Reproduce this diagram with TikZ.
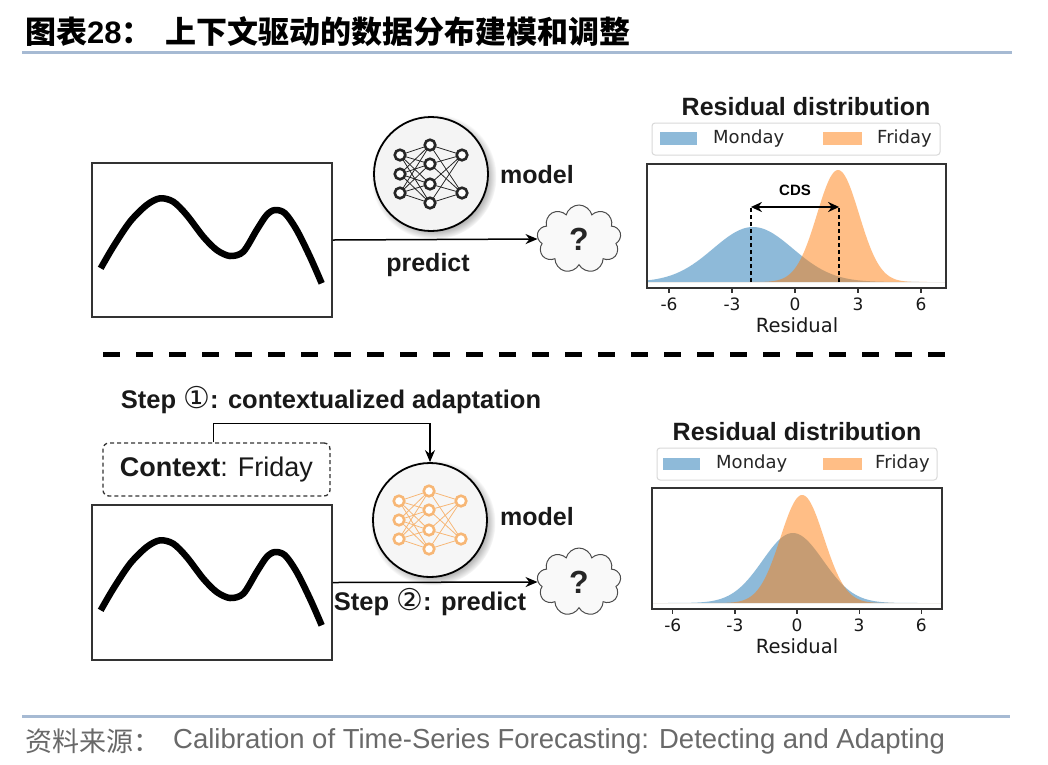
\documentclass[tikz,border=0pt]{standalone}
\usepackage{fontspec}
\setmainfont{Liberation Sans}
\newfontfamily\dvs{DejaVu Sans}
\newfontfamily\cjk{Noto Sans CJK SC}
\usetikzlibrary{arrows.meta,shapes.symbols,shadows,calc}
\definecolor{cblue}{HTML}{1F77B4}
\definecolor{corange}{HTML}{FF7F0E}
\definecolor{rulecol}{RGB}{166,186,211}
\definecolor{foot}{RGB}{105,105,105}
\definecolor{netor}{RGB}{247,183,118}
\definecolor{txt}{RGB}{25,25,25}
\newcommand\myfs[1]{\fontsize{#1pt}{#1pt}\selectfont}
\newcommand\drawnet[2]{%
  \begin{scope}[shift={(#1.center)}]
    \foreach \a in {-19,0,19}{\foreach \b in {-29,-10,10,29}{\draw[#2, line width=0.8pt] (-31,\a) -- (-1,\b);}}
    \foreach \b in {-29,-10,10,29}{\foreach \c in {-19,19}{\draw[#2, line width=0.8pt] (-1,\b) -- (31,\c);}}
    \foreach \p in {(-31,-19),(-31,0),(-31,19),(-1,-29),(-1,-10),(-1,10),(-1,29),(31,-19),(31,19)}{\draw[#2, line width=2.6pt, fill=white] \p circle[radius=5.3pt];}
  \end{scope}}
\newcommand\wavecurve{plot[smooth, tension=0.5] coordinates {(100.7,268.3) (113.3,246.7) (130,221.7) (146.7,205) (160,198.3) (173.3,201.7) (186.7,215) (203.3,236.7) (216.7,250) (230,256) (243.3,251.7) (256.7,230) (266.7,215) (275,210) (285,213.3) (296.7,230) (310,256.7) (321.7,283.3)}}
\begin{document}
\begin{tikzpicture}[x=1pt,y=-1pt,
  lbl/.style={font=\myfs{25}\bfseries, text=txt, inner sep=0pt},
  arr/.style={line width=1.5pt, -{Stealth[length=12pt,width=10pt]}},
  netc/.style={circle, draw=black, line width=1.8pt, fill=gray!9, minimum size=114pt, inner sep=0pt,
     circular drop shadow={shadow xshift=2.5pt, shadow yshift=-2.5pt, opacity=0.6}},
  cloudq/.style={cloud, cloud puffs=9, aspect=1.25, draw=black!70, line width=1pt, fill=gray!5,
     minimum width=84pt, minimum height=68pt, inner sep=0pt, font=\myfs{32}\bfseries, text=black!85},
  tsbox/.style={draw=black!80, line width=1.8pt, minimum width=240pt, minimum height=154pt, inner sep=0pt},
  tick/.style={font=\dvs\myfs{17}, text=txt, inner sep=0pt},
  leg/.style={font=\dvs\myfs{18}, text=black!85, inner sep=0pt, anchor=west},
  legbox/.style={draw=gray!30, rounded corners=3pt, line width=1pt, fill=white, inner sep=0pt},
  axbox/.style={draw=black!80, line width=1.4pt, inner sep=0pt},
  ptitle/.style={font=\myfs{25}\bfseries, text=txt, inner sep=0pt}]
\useasboundingbox (0,0) rectangle (1048,764);
\fill[white] (0,0) rectangle (1048,764);

% title
\node[anchor=west, inner sep=0pt] (ttl) at (25,32) {{\cjk\bfseries\myfs{31}图表}{\bfseries\myfs{31}28}{\cjk\bfseries\myfs{31}：}};
\node[anchor=west, inner sep=0pt] (ttl2) at (165,32) {\cjk\bfseries\myfs{31}上下文驱动的数据分布建模和调整};
\draw[rulecol, line width=3pt] (22,52) -- (1012,52);

% ---------- top row ----------
\node[tsbox] (box1) at (212,240) {};
\draw[line width=6.5pt] \wavecurve;
\node[netc] (net1) at (431,174) {};
\drawnet{net1}{black!85}
\node[lbl, anchor=west] (mod1) at (500,175) {model};
\node[cloudq] (cl1) at (579,239) {?};
\draw[arr] (box1.east) -- (cl1.west);
\node[lbl] (pred1) at (428,265) {predict};

% top plot
\node[ptitle] (pt1) at (806,107) {Residual distribution};
\node[legbox, minimum width=288pt, minimum height=32pt] (lg1) at (796,139) {};
\fill[cblue, fill opacity=0.5] (660,132) rectangle (697,145);
\fill[corange, fill opacity=0.5] (823,132) rectangle (862,145);
\node[leg] (lm1) at (713,139) {Monday};
\node[leg] (lf1) at (877,139) {Friday};
\begin{scope}[shift={(795,282)}, x=21pt, y=1pt]
  \fill[cblue, fill opacity=0.5] (-7.05,0) -- plot[domain=-7.05:7.19, samples=160] (\x,{55*exp(-((\x+2)^2)/7.22)}) -- (7.19,0) -- cycle;
  \fill[corange, fill opacity=0.5] (-7.05,0) -- plot[domain=-7.05:7.19, samples=200] (\x,{112*exp(-((\x-2.05)^2)/2)}) -- (7.19,0) -- cycle;
  \draw[line width=1.5pt, dash pattern=on 4pt off 3pt] (-2.1,0) -- (-2.1,75);
  \draw[line width=1.5pt, dash pattern=on 4pt off 3pt] (2.1,0) -- (2.1,75);
  \draw[line width=2pt, {Stealth[length=11pt,width=10pt]}-{Stealth[length=11pt,width=10pt]}] (-2.1,75) -- (2.1,75);
  \node[font=\myfs{15}\bfseries, inner sep=0pt] (cds) at (0,92) {CDS};
\end{scope}
\node[axbox, minimum width=299pt, minimum height=124pt] (ax1) at (796.5,226) {};
\foreach \v [count=\i] in {-6,-3,0,3,6}{
  \draw[black!80, line width=1.2pt] ({795+21*\v},288) -- ({795+21*\v},293);
  \node[tick] (ta\i) at ({795+21*\v},304) {\v};}
\node[font=\dvs\myfs{19.5}, text=txt, inner sep=0pt] (xl1) at (797,325) {Residual};

% separator
\draw[line width=5pt, dash pattern=on 17pt off 16pt] (103,354) -- (952,354);

% ---------- bottom row ----------
\node[lbl, font=\myfs{25.5}\bfseries] (st1) at (331,400) {Step {\dvs\mdseries\myfs{30}①}: contextualized adaptation};
\node[draw=black!80, dash pattern=on 4pt off 3pt, rounded corners=6pt, line width=1.3pt, minimum width=227pt, minimum height=53pt, inner sep=0pt, font=\myfs{27}, text=txt] (ctx) at (216.5,469.5) {\textbf{Context}: Friday};
\node[tsbox, minimum height=155pt] (box2) at (212,582.5) {};
\begin{scope}[shift={(0,342)}]
  \draw[line width=6.5pt] \wavecurve;
\end{scope}
\node[netc, fill=gray!7] (net2) at (430,520) {};
\drawnet{net2}{netor}
\node[lbl, anchor=west] (mod2) at (500,517) {model};
\node[cloudq] (cl2) at (579,582) {?};
\draw[arr] (box2.east) -- (cl2.west);
\draw[arr] ([xshift=-3pt]ctx.north) -- ++(0,-19) -| (net2.north);
\node[lbl, font=\myfs{25.5}\bfseries] (st2) at (430,602) {Step {\dvs\mdseries\myfs{30}②}: predict};

% bottom plot
\node[ptitle] (pt2) at (797,432) {Residual distribution};
\node[legbox, minimum width=280pt, minimum height=32pt] (lg2) at (797,464) {};
\fill[cblue, fill opacity=0.5] (663,458) rectangle (700,470);
\fill[corange, fill opacity=0.5] (823,458) rectangle (862,470);
\node[leg] (lm2) at (716,464) {Monday};
\node[leg] (lf2) at (875,464) {Friday};
\begin{scope}[shift={(797,603)}, x=20.7pt, y=1pt]
  \fill[cblue, fill opacity=0.5] (-7.0,0) -- plot[domain=-7.0:7.0, samples=160] (\x,{70*exp(-((\x+0.2)^2)/4.3)}) -- (7.0,0) -- cycle;
  \fill[corange, fill opacity=0.5] (-7.0,0) -- plot[domain=-7.0:7.0, samples=200] (\x,{108*exp(-((\x-0.25)^2)/2.2)}) -- (7.0,0) -- cycle;
\end{scope}
\node[axbox, minimum width=290pt, minimum height=121pt] (ax2) at (797,548.5) {};
\foreach \v [count=\i] in {-6,-3,0,3,6}{
  \draw[black!80, line width=1.2pt] ({797+20.7*\v},609) -- ({797+20.7*\v},614);
  \node[tick] (tb\i) at ({797+20.7*\v},625) {\v};}
\node[font=\dvs\myfs{19.5}, text=txt, inner sep=0pt] (xl2) at (797,646) {Residual};

% footer
\draw[rulecol, line width=3pt] (22,716) -- (1010,716);
\node[anchor=west, inner sep=0pt, text=foot] (src1) at (25,741) {\cjk\myfs{27}资料来源：};
\node[anchor=west, inner sep=0pt, text=foot] (src2) at (173,741) {\myfs{27.5}Calibration of Time-Series Forecasting: Detecting and Adapting};
\end{tikzpicture}
\end{document}
